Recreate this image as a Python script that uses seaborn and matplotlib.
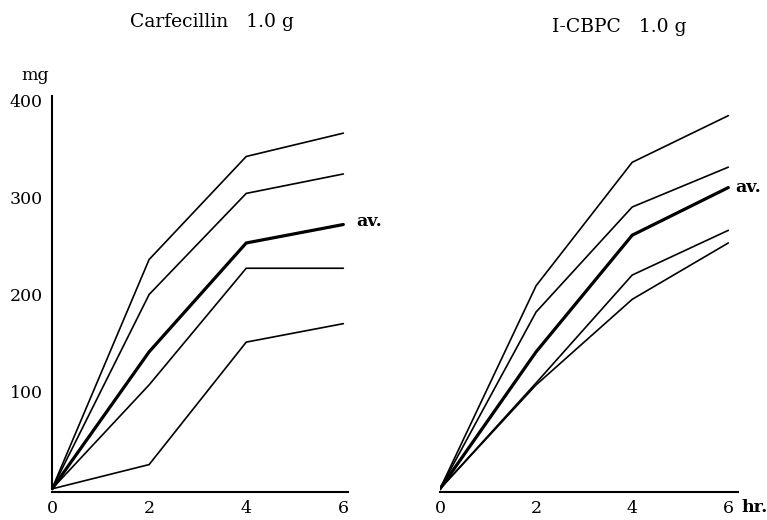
import matplotlib
matplotlib.use("Agg")
import matplotlib.pyplot as plt
import seaborn as sns
import pandas as pd

# --- DATA (mg excreted) ---
hours = [0, 2, 4, 6]

carf_curves = {
    "c1": [0, 236, 342, 366],
    "c2": [0, 200, 304, 324],
    "av": [0, 141, 253, 272],
    "c4": [0, 107, 227, 227],
    "c5": [0, 25, 151, 170],
}
cbpc_curves = {
    "c1": [0, 209, 336, 384],
    "c2": [0, 182, 290, 331],
    "av": [0, 141, 261, 310],
    "c4": [0, 109, 220, 266],
    "c5": [0, 107, 195, 253],
}

x_ticks = [0, 2, 4, 6]
y_ticks = [100, 200, 300, 400]
titles = ["Carfecillin   1.0 g", "I-CBPC   1.0 g"]

# --- STYLE ---
sns.set_style("white")
plt.rcParams["font.family"] = ["DejaVu Serif", "Liberation Serif"]
plt.rcParams["text.color"] = "black"
plt.rcParams["xtick.color"] = "black"
plt.rcParams["ytick.color"] = "black"
plt.rcParams["axes.edgecolor"] = "black"

fig = plt.figure(figsize=(7.67, 5.2), dpi=100)
W, H = 767, 520

# axes placed in pixel terms to follow the original scan
ax1 = fig.add_axes([52 / W, 28.2 / H, 296.2 / W, 391.7 / H])
ax2 = fig.add_axes([440 / W, 28.2 / H, 297.9 / W, 391.7 / H])


def draw_panel(ax, curves):
    for name, vals in curves.items():
        df = pd.DataFrame({"hr": hours, "mg": vals})
        lw = 2.3 if name == "av" else 1.2
        sns.lineplot(data=df, x="hr", y="mg", ax=ax, color="black",
                     linewidth=lw, solid_joinstyle="miter")
    ax.set_ylim(-3, 400)
    ax.set_xlabel("")
    ax.set_ylabel("")
    ax.set_xticks(x_ticks)
    ax.set_xticklabels([str(t) for t in x_ticks], fontsize=12.5)
    ax.tick_params(axis="x", direction="in", length=5, width=1.5, pad=6)
    for s in ["top", "right"]:
        ax.spines[s].set_visible(False)
    ax.spines["bottom"].set_linewidth(1.5)


draw_panel(ax1, carf_curves)
ax1.set_xlim(0, 6.1)
ax1.set_yticks(y_ticks)
ax1.set_yticklabels([str(t) for t in y_ticks], fontsize=12.5)
ax1.tick_params(axis="y", direction="inout", length=7, width=1.5, pad=3)
ax1.spines["left"].set_linewidth(1.5)
ax1.spines["left"].set_bounds(0, 404)

draw_panel(ax2, cbpc_curves)
ax2.set_xlim(0, 6.2)
ax2.set_yticks([])
ax2.spines["left"].set_visible(False)

# --- TEXT ---
fig.text(212 / W, 1 - 22 / H, titles[0], ha="center", va="center", fontsize=13.5)
fig.text(619 / W, 1 - 27 / H, titles[1], ha="center", va="center", fontsize=13.5)
fig.text(35 / W, 1 - 76 / H, "mg", ha="center", va="center", fontsize=12.5)
fig.text(755 / W, 1 - 508 / H, "hr.", ha="center", va="center",
         fontsize=12.5, fontweight="bold")

ax1.annotate("av.", xy=(hours[-1], carf_curves["av"][-1]), xytext=(9, 2),
             textcoords="offset points", ha="left", va="center",
             fontsize=12.5, fontweight="bold")
ax2.annotate("av.", xy=(hours[-1], cbpc_curves["av"][-1]), xytext=(5, 0),
             textcoords="offset points", ha="left", va="center",
             fontsize=12.5, fontweight="bold", annotation_clip=False)

plt.savefig("out.png", dpi=100)
